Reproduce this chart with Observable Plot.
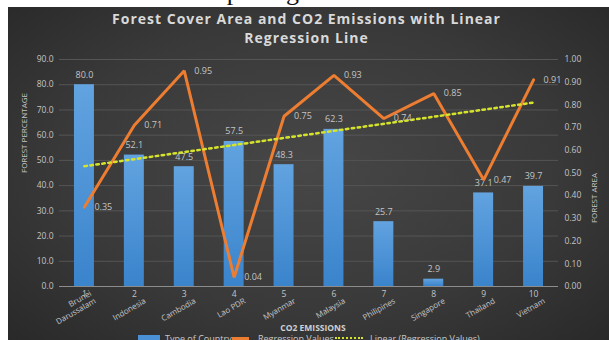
<!DOCTYPE html>
<html>
<head>
<meta charset="utf-8">
<script src="https://cdn.jsdelivr.net/npm/d3@7"></script>
<script src="https://cdn.jsdelivr.net/npm/@observablehq/plot@0.6"></script>
<style>
  body { margin: 0; background: #fff; }
  #page { position: relative; width: 609px; height: 340px; overflow: hidden; background: #fff; }
  #prev { position: absolute; left: 0; top: 0; width: 609px; height: 8px; overflow: hidden; }
  #prev span { position: absolute; left: 0; width: 619px; text-align: center; top: -23px;
    font: 26px "Liberation Serif", serif; color: #111; white-space: nowrap; }
  #panel { position: absolute; left: 8px; top: 7px; width: 601px; height: 333px;
    background: radial-gradient(ellipse 75% 80% at 50% 48%, #474747 0%, #393939 55%, #262626 100%); }
  #title { position: absolute; left: 6px; width: 601px; top: 9px; text-align: center;
    font: bold 14px "Open Sans", sans-serif; letter-spacing: 1px; line-height: 19px; color: #d9d9d9; }
  #chart { position: absolute; left: 0; top: 0; }
  #xtitle { position: absolute; left: 0; width: 626px; top: 322px; text-align: center;
    font: bold 8.5px "Open Sans", sans-serif; color: #d0d0d0; }
  .lg { position: absolute; top: 332px; font: 9px "Open Sans", sans-serif; color: #c8c8c8; white-space: nowrap; }
  .sw { position: absolute; }
</style>
</head>
<body>
<div id="page">
  <div id="prev"><span>depleting substances</span></div>
  <div id="panel"></div>
  <div id="title">Forest Cover Area and CO2 Emissions with Linear<br>Regression Line</div>
  <div id="chart"></div>
  <div id="xtitle">CO2 EMISSIONS</div>
  <div class="sw" style="left:138px;top:335px;width:22px;height:8px;background:#4a90d4;"></div>
  <div class="lg" style="left:165px;">Type of Country</div>
  <div class="sw" style="left:232px;top:337px;width:17px;height:3px;background:#ed7d31;"></div>
  <div class="lg" style="left:258px;">Regression Values</div>
  <div class="sw" style="left:335px;top:337px;width:28px;height:0;border-top:2.5px dotted #d6e32b;"></div>
  <div class="lg" style="left:370px;">Linear (Regression Values)</div>
</div>
<script>
// Category index, country names, forest cover (%) and regression values
const ids = [1, 2, 3, 4, 5, 6, 7, 8, 9, 10];
const countries = ["Brunei\nDarussalam", "Indonesia", "Cambodia", "Lao PDR", "Myanmar",
  "Malaysia", "Philipines", "Singapore", "Thailand", "Vietnam"];
const forestPct = [80.0, 52.1, 47.5, 57.5, 48.3, 62.3, 25.7, 2.9, 37.1, 39.7];
const regression = [0.35, 0.71, 0.95, 0.04, 0.75, 0.93, 0.74, 0.85, 0.47, 0.91];
const leftTicks = [0, 10, 20, 30, 40, 50, 60, 70, 80, 90];
const rightTicks = [0, 0.1, 0.2, 0.3, 0.4, 0.5, 0.6, 0.7, 0.8, 0.9, 1.0];

const rows = ids.map((i, k) => ({i, country: countries[k], forest: forestPct[k], reg: regression[k]}));

// Secondary axis (0–1) mapped onto the primary axis (0–90)
const toLeft = d3.scaleLinear([0, 1], [0, 90]);

const txt = "#c4c4c4";
const font = "Open Sans, sans-serif";

const chart = Plot.plot({
  width: 609,
  height: 340,
  marginTop: 59,
  marginBottom: 54,
  marginLeft: 59,
  marginRight: 51,
  style: {background: "transparent", color: txt, fontFamily: font, fontSize: "8.5px", overflow: "visible"},
  x: {type: "linear", domain: [0.5, 10.5], axis: null},
  y: {domain: [0, 90], axis: null},
  marks: [
    Plot.ruleY(leftTicks.filter(d => d > 0), {stroke: "#555555", strokeWidth: 1}),
    Plot.ruleY([0], {stroke: "#8c8c8c", strokeWidth: 1}),
    Plot.rectY(rows, {x1: d => d.i - 0.2, x2: d => d.i + 0.2, y: "forest", fill: "url(#barFill)"}),
    Plot.text(rows, {x: "i", y: "forest", text: d => d.forest.toFixed(1), dy: -10, fill: txt, fontSize: 9}),
    Plot.line(rows, {x: "i", y: d => toLeft(d.reg), stroke: "#ed7d31", strokeWidth: 3, strokeLinejoin: "miter"}),
    Plot.linearRegressionY(rows, {x: "i", y: d => toLeft(d.reg), stroke: "#d6e32b", strokeWidth: 2.5,
      strokeDasharray: "2.5,3.5", ci: 0}),
    Plot.text(rows, {x: "i", y: d => toLeft(d.reg), text: d => d.reg.toFixed(2), textAnchor: "start",
      dx: 10, fill: txt, fontSize: 9}),
    // left axis
    Plot.text(leftTicks, {y: d => d, frameAnchor: "left", dx: -6, textAnchor: "end",
      text: d => d.toFixed(1), fill: txt, fontSize: 8.5}),
    // right axis
    Plot.text(rightTicks, {y: d => toLeft(d), frameAnchor: "right", dx: 6, textAnchor: "start",
      text: d => d.toFixed(2), fill: txt, fontSize: 8.5}),
    // category numbers and names
    Plot.text(rows, {x: "i", frameAnchor: "bottom", dy: 10, text: d => String(d.i), fill: txt, fontSize: 8.5}),
    Plot.text(rows, {x: "i", frameAnchor: "bottom", dx: 12, dy: 16, rotate: -30, textAnchor: "end",
      lineHeight: 1.1, text: "country", fill: txt, fontSize: 8}),
    // axis titles
    Plot.text(["FOREST PERCENTAGE"], {frameAnchor: "left", dx: -35, rotate: -90, text: d => d,
      fill: txt, fontSize: 8}),
    Plot.text(["FOREST AREA"], {frameAnchor: "right", dx: 36, rotate: -90, text: d => d,
      fill: txt, fontSize: 8})
  ]
});

// vertical gradient used for the bars
const defs = d3.select(chart).insert("defs", ":first-child");
const g = defs.append("linearGradient").attr("id", "barFill").attr("x1", 0).attr("y1", 0).attr("x2", 0).attr("y2", 1);
g.append("stop").attr("offset", "0%").attr("stop-color", "#62a3e0");
g.append("stop").attr("offset", "100%").attr("stop-color", "#3a84cc");

document.getElementById("chart").appendChild(chart);
</script>
</body>
</html>
